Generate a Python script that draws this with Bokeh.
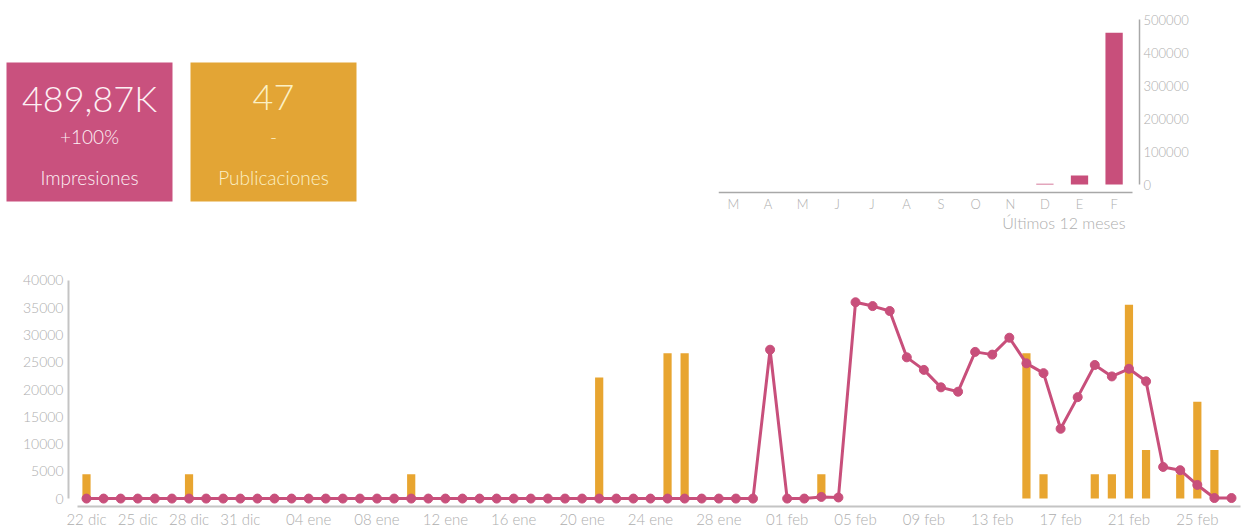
import pandas as pd
from bokeh.plotting import figure
from bokeh.models import ColumnDataSource, Range1d, FixedTicker
from bokeh.layouts import column, row
from bokeh.core.properties import value
from bokeh.embed import file_html
from bokeh.resources import INLINE

# ---------------- data ----------------
kpi_values = ["489,87K", "47"]
kpi_changes = ["+100%", "-"]
kpi_labels = ["Impresiones", "Publicaciones"]

month_labels = ["M", "A", "M", "J", "J", "A", "S", "O", "N", "D", "E", "F"]
month_impressions = [0, 0, 0, 0, 0, 0, 0, 0, 0, 2500, 27400, 459970]
month_caption = "Últimos 12 meses"

start_date = "2017-12-22"
impressions = [
    0, 0, 0, 0, 0, 0, 0, 0, 0, 0,            # 22 dic - 31 dic
    0, 0, 0, 0, 0, 0, 0, 0, 0, 0,            # 01 ene - 10 ene
    0, 0, 0, 0, 0, 0, 0, 0, 0, 0,            # 11 ene - 20 ene
    0, 0, 0, 0, 0, 0, 0, 0, 0, 0,            # 21 ene - 30 ene
    27300,                                   # 31 ene
    0, 0, 300, 200, 36000, 35300, 34400, 25900, 23600, 20400,   # 01 feb - 10 feb
    19600, 26900, 26400, 29500, 24800, 23000, 12800, 18600, 24500, 22400,  # 11 - 20 feb
    23800, 21500, 5800, 5200, 2500, 100, 100,                  # 21 - 27 feb
]
publications = [
    1, 0, 0, 0, 0, 0, 1, 0, 0, 0,
    0, 0, 0, 0, 0, 0, 0, 0, 0, 1,
    0, 0, 0, 0, 0, 0, 0, 0, 0, 0,
    5, 0, 0, 0, 6, 6, 0, 0, 0, 0,
    0,
    0, 0, 1, 0, 0, 0, 0, 0, 0, 0,
    0, 0, 0, 0, 6, 1, 0, 0, 1, 1,
    8, 2, 0, 1, 4, 2, 0,
]
tick_labels = ["22 dic", "25 dic", "28 dic", "31 dic", "04 ene", "08 ene", "12 ene",
               "16 ene", "20 ene", "24 ene", "28 ene", "01 feb", "05 feb", "09 feb",
               "13 feb", "17 feb", "21 feb", "25 feb"]
pub_axis_max = 9
imp_axis_max = 40000
mini_axis_max = 500000

# ---------------- style ----------------
PINK = "#c84f7b"
BOX_PINK = "#c9517e"
ORANGE = "#e8a530"
BOX_ORANGE = "#e3a535"
TXT = "#aeaeae"
AXIS = "#c4c4c4"
FONT = "Lato Light, Lato"

mes = {12: "dic", 1: "ene", 2: "feb"}
dates = pd.date_range(start_date, periods=len(impressions))
day_labels = [f"{d.day:02d} {mes[d.month]}" for d in dates]
xs = list(range(len(impressions)))
tick_pos = [day_labels.index(t) for t in tick_labels]

# top row: both figures share the same frame rows (page pixels 15 .. 230)
TOP_H = 252
FR_TOP, FR_BOT = 15, 230

# ---------------- KPI boxes ----------------
KW = 700
kpi = figure(width=KW, height=TOP_H, x_range=Range1d(0, KW), y_range=Range1d(FR_BOT, FR_TOP),
             x_axis_type=None, y_axis_type=None, output_backend="svg",
             toolbar_location=None, min_border_left=0, min_border_right=0,
             min_border_top=FR_TOP, min_border_bottom=TOP_H - FR_BOT,
             outline_line_color=None)
kpi.grid.visible = False
box_left = [6, 190]
box_right = [172, 356]
ksrc = ColumnDataSource(dict(
    left=box_left, right=box_right, top=[62, 62], bottom=[201, 201],
    cx=[(a + b) / 2 for a, b in zip(box_left, box_right)],
    val=kpi_values, chg=kpi_changes, lab=kpi_labels,
    fill=[BOX_PINK, BOX_ORANGE], tcol=["#fdf0f4", "#fbf0c4"],
))
kpi.quad(left="left", right="right", top="top", bottom="bottom", source=ksrc,
         fill_color="fill", line_color=None)
kpi.text(x="cx", y=97, text="val", source=ksrc, text_color="tcol",
         text_font=value(FONT), text_font_size="36px", text_align="center",
         text_baseline="middle")
kpi.text(x="cx", y=136, text="chg", source=ksrc, text_color="tcol",
         text_font=value(FONT), text_font_size="19px", text_align="center",
         text_baseline="middle")
kpi.text(x="cx", y=177, text="lab", source=ksrc, text_color="tcol",
         text_font=value(FONT), text_font_size="19px", text_align="center",
         text_baseline="middle")

# ---------------- mini monthly chart ----------------
MX0 = KW                      # page x of the mini figure
MW = 1249 - KW
fr_left, fr_right = 718, 1139   # page x of frame
first_px, step_px = 733, 34.6   # page x of first month, spacing
zero_y, max_y, axis_y = 184, 19, 192   # page y of 0, of max tick, of x-axis line
caption_y, caption_right = 222, 1125

per_px = mini_axis_max / (zero_y - max_y)
my0 = -(FR_BOT - zero_y) * per_px
my1 = mini_axis_max + (max_y - FR_TOP) * per_px
mx0 = -(first_px - fr_left) / step_px
mx1 = mx0 + (fr_right - fr_left) / step_px

mini = figure(width=MW, height=TOP_H, x_range=Range1d(mx0, mx1), y_range=Range1d(my0, my1),
              output_backend="svg", toolbar_location=None, y_axis_location="right",
              min_border_left=fr_left - MX0, min_border_right=1249 - fr_right,
              min_border_top=FR_TOP, min_border_bottom=TOP_H - FR_BOT,
              outline_line_color=None)
mini.grid.visible = False
mx = list(range(len(month_labels)))
mini.vbar(x=mx, top=month_impressions, bottom=0, width=0.5, fill_color=PINK, line_color=None)
mini.xaxis.fixed_location = -(axis_y - zero_y) * per_px
mini.xaxis.ticker = FixedTicker(ticks=mx)
mini.xaxis.major_label_overrides = {i: m for i, m in enumerate(month_labels)}
mini.xaxis.bounds = (mx0, mx0 + (fr_right - 7 - fr_left) / step_px)
mini.yaxis.ticker = FixedTicker(ticks=list(range(0, mini_axis_max + 1, 100000)))
mini.yaxis.bounds = (0, mini_axis_max)
for ax in (mini.xaxis[0], mini.yaxis[0]):
    ax.major_tick_out = 0
    ax.major_tick_in = 0
    ax.minor_tick_out = 0
    ax.minor_tick_in = 0
    ax.axis_line_color = "#a8a8a8"
    ax.axis_line_width = 1.5
    ax.major_label_text_color = TXT
    ax.major_label_text_font = FONT
    ax.major_label_text_font_size = "13px"
mini.xaxis.major_label_standoff = 3
mini.yaxis.major_label_standoff = 4
mini.yaxis.formatter.use_scientific = False
mini.text(x=[(caption_right - first_px) / step_px], y=[-(caption_y - zero_y) * per_px],
          text=[month_caption], text_align="right", text_baseline="middle",
          text_color=TXT, text_font=value(FONT), text_font_size="16px")

# ---------------- main daily chart ----------------
W, H = 1249, 530 - TOP_H
fl, fr_, ft, fb = 68, 1240, 275, 508          # page frame edges
d0_px, dN_px = 86, 1231                         # page x of first / last day
z_px, top_px = 500, 280                         # page y of 0 and 40000
day_px = (dN_px - d0_px) / (len(xs) - 1)
x0 = -(d0_px - fl) / day_px
x1 = x0 + (fr_ - fl) / day_px
v_per_px = imp_axis_max / (z_px - top_px)
y0 = -(fb - z_px) * v_per_px
y1 = imp_axis_max + (top_px - ft) * v_per_px

p = figure(width=W, height=H, x_range=Range1d(x0, x1), y_range=Range1d(y0, y1),
           output_backend="svg", toolbar_location=None,
           min_border_left=fl, min_border_right=W - fr_, min_border_top=ft - TOP_H,
           min_border_bottom=530 - fb, outline_line_color=None)
p.grid.visible = False
scale = pub_axis_max / imp_axis_max
p.extra_y_ranges = {"pubs": Range1d(y0 * scale, y1 * scale)}

p.vbar(x=xs, top=publications, bottom=0, width=0.48, fill_color=ORANGE, line_color=None,
       y_range_name="pubs")
p.line(xs, impressions, line_width=3, color=PINK)
p.scatter(xs, impressions, size=9, color=PINK)

p.xaxis.ticker = FixedTicker(ticks=tick_pos)
p.xaxis.major_label_overrides = {i: day_labels[i] for i in tick_pos}
p.xaxis.bounds = (-0.53, len(xs) - 1 + 0.53)
p.yaxis.ticker = FixedTicker(ticks=list(range(0, imp_axis_max + 1, 5000)))
p.yaxis.bounds = (0, imp_axis_max)
for ax in (p.xaxis[0], p.yaxis[0]):
    ax.major_tick_out = 0
    ax.major_tick_in = 0
    ax.minor_tick_out = 0
    ax.minor_tick_in = 0
    ax.axis_line_color = AXIS
    ax.axis_line_width = 2
    ax.major_label_text_color = TXT
    ax.major_label_text_font = FONT
p.xaxis.major_label_text_font_size = "15px"
p.yaxis.major_label_text_font_size = "14px"
p.xaxis.major_label_standoff = 3
p.yaxis.major_label_standoff = 5

layout = column(row(kpi, mini), p)
open("out.html", "w").write(file_html(layout, INLINE))
